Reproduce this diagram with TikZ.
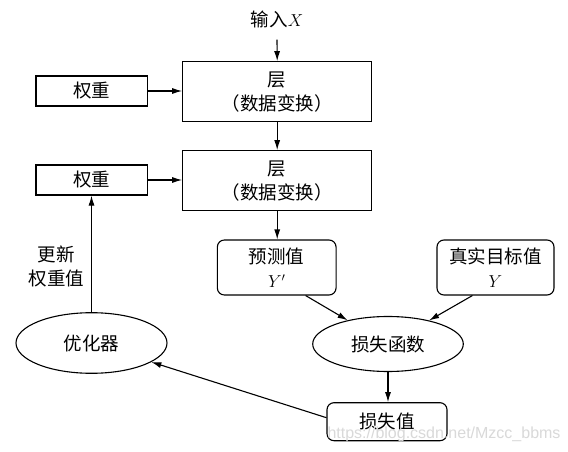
\documentclass[tikz,border=0pt]{standalone}
\usepackage{fontspec}
\setmainfont{Noto Sans CJK SC}
\newfontfamily\wmfont{Liberation Sans}
\usetikzlibrary{arrows.meta,shapes.geometric}
\begin{document}
\begin{tikzpicture}[x=1pt,y=-1pt,
  every node/.style={font=\fontsize{18.5}{24}\selectfont, inner sep=0pt, align=center},
  sq/.style={draw, line width=1.1pt, rectangle},
  rbox/.style={draw, line width=1.1pt, rectangle, rounded corners=7pt},
  ell/.style={draw, line width=1.1pt, ellipse},
  arr/.style={line width=1.1pt, -{Latex[length=10pt,width=6pt]}}]
\useasboundingbox[fill=white] (0,0) rectangle (568,452);
\node (inX) at (277,19) {输入$X$};
\node[sq, minimum width=189pt, minimum height=60pt] (L1) at (277.2,91.7) {层\\（数据变换）};
\node[sq, minimum width=111.7pt, minimum height=30pt] (W1) at (91.8,91) {权重};
\node[sq, minimum width=189pt, minimum height=60pt] (L2) at (277.2,180.7) {层\\（数据变换）};
\node[sq, minimum width=111.7pt, minimum height=30pt] (W2) at (91.8,180) {权重};
\node[rbox, minimum width=118.7pt, minimum height=55pt] (P) at (276.7,267.5) {预测值\\$Y'$};
\node[rbox, minimum width=117pt, minimum height=55pt] (T) at (495.5,267.5) {真实目标值\\$Y$};
\node[ell, minimum width=151pt, minimum height=60.6pt] (OPT) at (91.5,343) {优化器};
\node[ell, minimum width=150.6pt, minimum height=55pt] (LF) at (388,344) {损失函数};
\node[rbox, minimum width=120pt, minimum height=38pt] (LV) at (387,421.7) {损失值};
\node (upd) at (56.5,266) {更新\\权重值};
\node[font=\wmfont\fontsize{16}{18}\selectfont, text=black!15] (wm) at (444,434) {https://blog.csdn.net/Mzcc\_bbms};
\draw[arr] ([yshift=-12pt]inX.south) -- (L1.north);
\draw[arr] (W1.east) -- (W1.east -| L1.west);
\draw[arr] (L1.south) -- (L2.north);
\draw[arr] (W2.east) -- (W2.east -| L2.west);
\draw[arr] (L2.south) -- (L2.south |- P.north);
\draw[arr] ([xshift=-31pt]P.south east) -- (LF);
\draw[arr] ([xshift=36pt]T.south west) -- (LF);
\draw[arr] (LF.south) -- (LF.south |- LV.north);
\draw[arr] ([yshift=4pt]LV.west) -- (OPT);
\draw[arr] (OPT.north) -- (OPT.north |- W2.south);
\end{tikzpicture}
\end{document}
